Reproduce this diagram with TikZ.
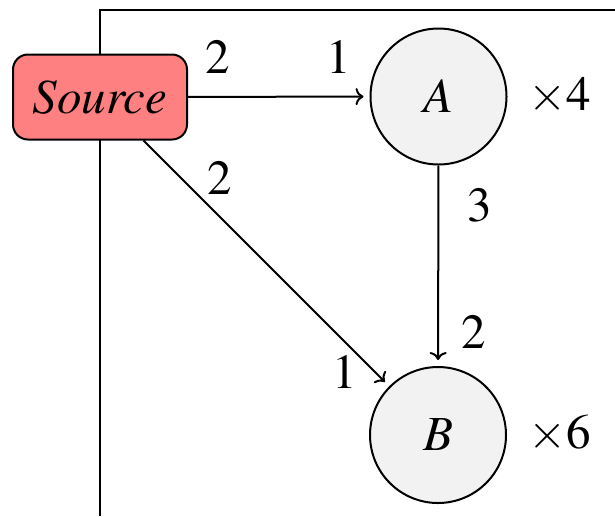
\documentclass[tikz,border=0pt]{standalone}
\usepackage[T1]{fontenc}
\usepackage{mathptmx}
\usetikzlibrary{arrows.meta}
\begin{document}
\begin{tikzpicture}[x=0.5pt,y=-0.5pt,
  every node/.style={font=\fontsize{24.5}{29}\selectfont},
  lbl/.style={inner sep=0pt,anchor=center},
  srcbox/.style={draw,line width=1pt,fill={rgb,255:red,255;green,128;blue,128},rounded corners=7.5pt,minimum width=87pt,minimum height=42.5pt,inner sep=0pt},
  vert/.style={draw,circle,line width=1pt,fill={rgb,255:red,242;green,242;blue,242},minimum size=68pt,inner sep=0pt},
  edge/.style={line width=1pt,shorten >=3pt,-{To[length=4pt,width=8.5pt]}}]
\useasboundingbox (0,0) rectangle (615,516);
\coordinate (f1) at (100,516);
\coordinate (f2) at (100,10);
\coordinate (f3) at (615,10);
\draw[line width=1pt] (f1) -- (f2) -- (f3);
\node[srcbox] (S) at (100,97) {\textit{Source}};
\node[vert] (A) at (438.5,96.5) {$A$};
\node[vert] (B) at (438,435) {$B$};
\draw[edge] (S) -- (A);
\draw[edge] (S) -- (B);
\draw[edge] (A) -- (B);
\node[lbl] (l1) at (218,57) {2};
\node[lbl] (l2) at (339,57) {1};
\node[lbl] (l3) at (220,178) {2};
\node[lbl] (l4) at (345,372) {1};
\node[lbl] (l5) at (480,205) {3};
\node[lbl] (l6) at (474,332) {2};
\node[lbl] (m1) at (560,96) {$\times$4};
\node[lbl] (m2) at (560,434) {$\times$6};
\end{tikzpicture}
\end{document}
